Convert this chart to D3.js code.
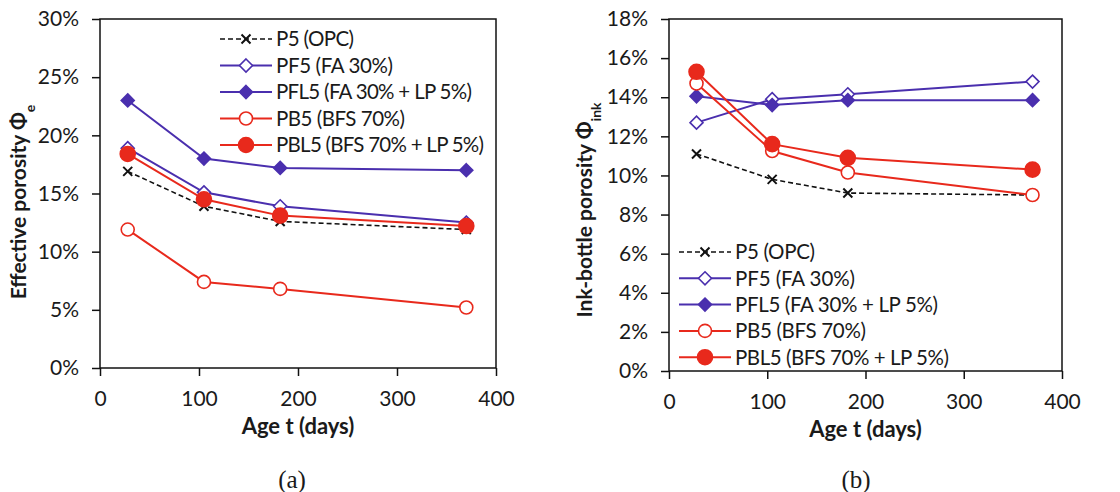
<!DOCTYPE html>
<html>
<head>
<meta charset="utf-8">
<script src="https://cdn.jsdelivr.net/npm/d3@7"></script>
<style>
  body { margin: 0; background: #fff; }
  svg text { font-family: Lato, "Open Sans", sans-serif; fill: #1a1a1a; }
</style>
</head>
<body>
<div id="chart"></div>
<script>
// ages (days) at which porosity was measured
var ages = [28, 105, 182, 370];

var names = ["P5 (OPC)", "PF5 (FA 30%)", "PFL5 (FA 30% + LP 5%)", "PB5 (BFS 70%)", "PBL5 (BFS 70% + LP 5%)"];

// (a) effective porosity, %
var effP5   = [16.9, 13.9, 12.6, 11.9];
var effPF5  = [18.9, 15.1, 13.9, 12.5];
var effPFL5 = [23.0, 18.0, 17.2, 17.0];
var effPB5  = [11.9, 7.4, 6.8, 5.2];
var effPBL5 = [18.4, 14.5, 13.1, 12.2];

// (b) ink-bottle porosity, %
var inkP5   = [11.1, 9.8, 9.1, 9.0];
var inkPF5  = [12.7, 13.9, 14.15, 14.8];
var inkPFL5 = [14.05, 13.6, 13.85, 13.85];
var inkPB5  = [14.7, 11.25, 10.15, 9.0];
var inkPBL5 = [15.3, 11.6, 10.9, 10.3];

var xTicks = [0, 100, 200, 300, 400];
var effTicks = [0, 5, 10, 15, 20, 25, 30];
var inkTicks = [0, 2, 4, 6, 8, 10, 12, 14, 16, 18];

var blue = "#4a2fae", red = "#e8291c";

// style per series, same order as names
var styles = [
  {color: "#111", dash: "5,3", marker: "x"},
  {color: blue, marker: "diamondOpen"},
  {color: blue, marker: "diamond"},
  {color: red, marker: "circleOpen"},
  {color: red, marker: "circle"}
];

var svg = d3.select("#chart").append("svg")
    .attr("width", 1120)
    .attr("height", 492);

function drawMarker(g, type, color) {
  if (type == "x") {
    g.append("path").attr("d", "M-4.5,-4.5L4.5,4.5M-4.5,4.5L4.5,-4.5")
      .attr("stroke", color).attr("stroke-width", 2).attr("fill", "none");
  } else if (type == "diamond" || type == "diamondOpen") {
    g.append("path").attr("d", "M0,-6.5L6.5,0L0,6.5L-6.5,0Z")
      .attr("stroke", color).attr("stroke-width", 1.6)
      .attr("fill", type == "diamond" ? color : "#fff");
  } else {
    g.append("circle").attr("r", type == "circle" ? 7.5 : 6.5)
      .attr("stroke", color).attr("stroke-width", 1.6)
      .attr("fill", type == "circle" ? color : "#fff");
  }
}

function drawPanel(p) {
  var x = d3.scaleLinear().domain([0, 400]).range([p.left, p.right]);
  var y = d3.scaleLinear().domain([0, p.ymax]).range([p.bottom, p.top]);
  var g = svg.append("g");

  // frame
  g.append("rect")
    .attr("x", p.left).attr("y", p.top)
    .attr("width", p.right - p.left).attr("height", p.bottom - p.top)
    .attr("fill", "none").attr("stroke", "#111").attr("stroke-width", 1.5);

  var xAxis = g.append("g")
    .attr("transform", "translate(0," + p.bottom + ")")
    .call(d3.axisBottom(x).tickValues(xTicks).tickSize(8).tickPadding(15));
  var yAxis = g.append("g")
    .attr("transform", "translate(" + p.left + ",0)")
    .call(d3.axisLeft(y).tickValues(p.ticks).tickSize(8).tickPadding(p.pad)
      .tickFormat(function(d) { return d + "%"; }));
  [xAxis, yAxis].forEach(function(a) {
    a.select(".domain").remove();
    a.selectAll(".tick line").attr("stroke", "#111").attr("stroke-width", 1.5);
    a.selectAll(".tick text").style("font-size", "21px").attr("fill", "#1a1a1a");
  });

  var line = d3.line()
    .x(function(d, i) { return x(ages[i]); })
    .y(function(d) { return y(d); });

  p.series.forEach(function(vals, k) {
    var s = styles[k];
    g.append("path")
      .datum(vals)
      .attr("d", line)
      .attr("fill", "none")
      .attr("stroke", s.color)
      .attr("stroke-width", k == 0 ? 1.6 : 2)
      .attr("stroke-dasharray", s.dash || null);
    vals.forEach(function(v, i) {
      var m = g.append("g").attr("transform", "translate(" + x(ages[i]) + "," + y(v) + ")");
      drawMarker(m, s.marker, s.color);
    });
  });

  // legend
  var leg = g.append("g");
  names.forEach(function(n, k) {
    var s = styles[k];
    var ly = p.legY + k * p.legStep;
    leg.append("line")
      .attr("x1", p.legX).attr("x2", p.legX + 52)
      .attr("y1", ly).attr("y2", ly)
      .attr("stroke", s.color).attr("stroke-width", k == 0 ? 1.6 : 2)
      .attr("stroke-dasharray", s.dash || null);
    var m = leg.append("g").attr("transform", "translate(" + (p.legX + 26) + "," + ly + ")");
    drawMarker(m, s.marker, s.color);
    leg.append("text")
      .attr("x", p.legX + 56).attr("y", ly)
      .attr("dy", "0.36em")
      .style("font-size", "20.5px")
      .attr("textLength", p.legLen[k])
      .text(n);
  });

  // axis titles
  g.append("text")
    .attr("x", (p.left + p.right) / 2).attr("y", p.bottom + 66)
    .attr("text-anchor", "middle")
    .style("font-size", "22px").style("font-weight", "bold")
    .text("Age t (days)");

  var yt = g.append("text")
    .attr("transform", "translate(" + p.yTitleX + "," + p.yTitleY + ") rotate(-90)")
    .attr("text-anchor", "middle")
    .style("font-size", "21px").style("font-weight", "bold");
  yt.append("tspan").text(p.yTitle + " \u03A6");
  yt.append("tspan").attr("baseline-shift", "sub").style("font-size", "14px").text(p.yTitleSub);

  g.append("text")
    .attr("x", p.labelX).attr("y", 488)
    .attr("text-anchor", "middle")
    .style("font-family", "'Liberation Serif', 'DejaVu Serif', serif")
    .style("font-size", "25px")
    .text(p.label);
}

drawPanel({
  left: 100, right: 496, top: 19, bottom: 368,
  ymax: 30, ticks: effTicks, pad: 13,
  series: [effP5, effPF5, effPFL5, effPB5, effPBL5],
  legX: 220, legY: 39, legStep: 26.5,
  legLen: [78, 117, 196, 129, 208],
  yTitle: "Effective porosity", yTitleSub: "e", yTitleX: 26, yTitleY: 202,
  label: "(a)", labelX: 292
});

drawPanel({
  left: 669, right: 1062, top: 19, bottom: 371,
  ymax: 18, ticks: inkTicks, pad: 13,
  series: [inkP5, inkPF5, inkPFL5, inkPB5, inkPBL5],
  legX: 679, legY: 252, legStep: 26.3,
  legLen: [80, 120, 203, 131, 214],
  yTitle: "Ink-bottle porosity", yTitleSub: "ink", yTitleX: 592, yTitleY: 210,
  label: "(b)", labelX: 856
});
</script>
</body>
</html>
